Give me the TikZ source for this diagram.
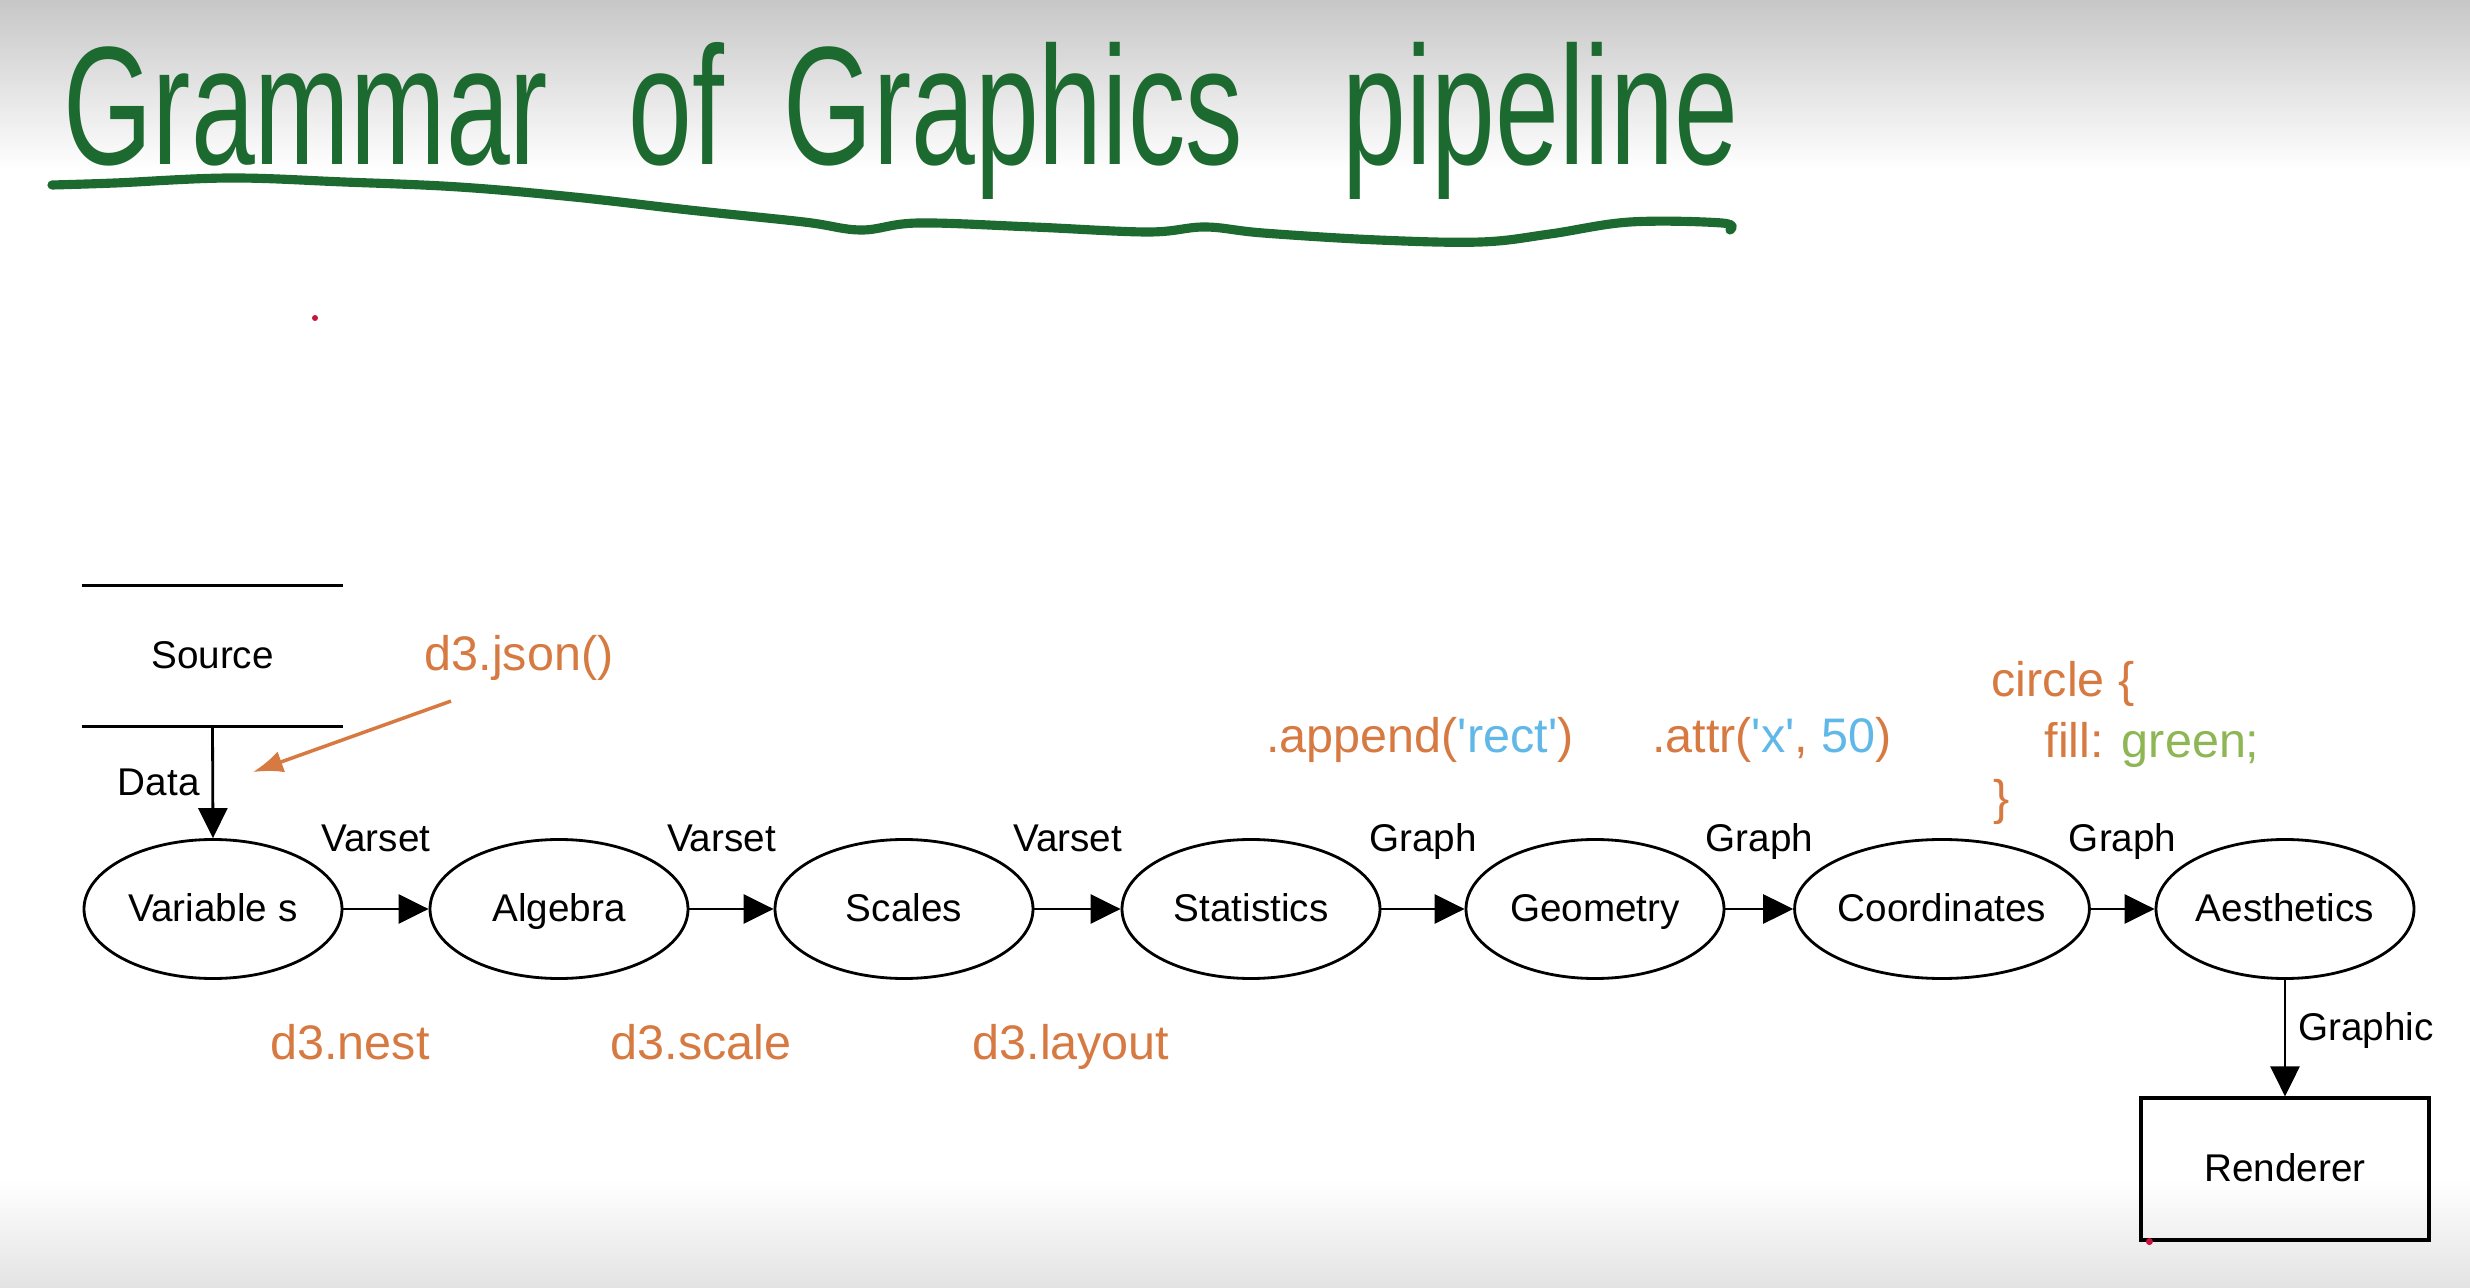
\documentclass[tikz,border=0pt]{standalone}
\usepackage{fontspec}
\setmainfont{Liberation Sans}
\usetikzlibrary{calc, arrows.meta, shapes.geometric}

\definecolor{pengreen}{RGB}{28,106,48}
\definecolor{codeorange}{RGB}{214,122,66}
\definecolor{codeblue}{RGB}{96,184,232}
\definecolor{codegreen}{RGB}{142,182,84}
\definecolor{inkred}{RGB}{200,20,60}
\newcommand{\squote}{\textquotesingle}

\begin{document}
\begin{tikzpicture}[
  font=\fontsize{11}{13}\selectfont,
  stage/.style={draw, ellipse, line width=0.8pt, minimum width=2.58cm, minimum height=1.39cm, inner sep=0pt,
    text height=0.72em, text depth=0pt},
  flow/.style={-{Triangle[length=3mm, width=2.9mm]}, line width=0.8pt},
  tag/.style={text height=0.72em, text depth=0pt},
  code/.style={text=codeorange, font=\fontsize{13.8}{16.6}\selectfont, text height=0.72em, text depth=0pt}
]
  \useasboundingbox (0,0) rectangle (24.7,-12.88);
  \fill[white] (0,0) rectangle (24.7,-12.88);
  \shade[top color=black!22, bottom color=white] (0,0) rectangle (24.7,-1.7);
  \shade[top color=white, bottom color=black!11] (0,-11.8) rectangle (24.7,-12.88);

  % pen title and its wavy underline
  \node[anchor=base west, text=pengreen, inner sep=0pt, font=\fontsize{48}{50}\selectfont] (title) at (0.63,-1.65)
    {\scalebox{0.68}[1]{Grammar\hspace{1.18cm}of\hspace{0.88cm}Graphics\hspace{1.47cm}pipeline}};
  \draw[pengreen, line width=2.6pt, line cap=round, line join=round] plot[smooth, tension=0.6] coordinates {
    (0.52,-1.85) (1.15,-1.83) (2.30,-1.78) (3.44,-1.82) (4.59,-1.87) (5.74,-1.97) (6.89,-2.10)
    (8.04,-2.22) (8.61,-2.30) (9.18,-2.23) (10.33,-2.27) (11.48,-2.32) (12.05,-2.27) (12.63,-2.33)
    (13.78,-2.40) (14.81,-2.42) (15.50,-2.34) (16.30,-2.22) (17.22,-2.23) (17.30,-2.30)};
  \fill[inkred] (3.15,-3.18) circle (0.03);

  % data store
  \node[tag, minimum width=2.59cm, minimum height=1.4cm] (src) at (2.125,-6.56) {Source};
  \draw[line width=0.9pt] (src.north west) -- (src.north east);
  \draw[line width=0.9pt] (src.south west) -- (src.south east);

  % pipeline stages
  \node[stage] (var) at (2.13,-9.09) {Variable s};
  \node[stage] (alg) at (5.59,-9.09) {Algebra};
  \node[stage] (scl) at (9.04,-9.09) {Scales};
  \node[stage] (sta) at (12.51,-9.09) {Statistics};
  \node[stage] (geo) at (15.95,-9.09) {Geometry};
  \node[stage] (crd) at (19.42,-9.09) {Coordinates};
  \node[stage] (aes) at (22.85,-9.09) {Aesthetics};
  \node[tag, draw, line width=0.9pt, minimum width=2.88cm, minimum height=1.42cm] (rnd) at (22.85,-11.69) {Renderer};
  \fill[inkred] (rnd.south west) ++(0.1,0) circle (0.035);

  \draw[flow] (src.south) -- node[tag, left] {Data} (var.north);
  \draw[flow] (var) -- node[tag, midway, yshift=7mm, xshift=-1mm] {Varset} (alg);
  \draw[flow] (alg) -- node[tag, midway, yshift=7mm, xshift=-1mm] {Varset} (scl);
  \draw[flow] (scl) -- node[tag, midway, yshift=7mm, xshift=-1mm] {Varset} (sta);
  \draw[flow] (sta) -- node[tag, midway, yshift=7mm] {Graph} (geo);
  \draw[flow] (geo) -- node[tag, midway, yshift=7mm] {Graph} (crd);
  \draw[flow] (crd) -- node[tag, midway, yshift=7mm] {Graph} (aes);
  \draw[flow] (aes.south) -- node[tag, right, yshift=1mm] {Graphic} (rnd.north);

  % d3 calls
  \node[code] (json) at (5.19,-6.58) {d3.json()};
  \coordinate (jsontip) at (2.53,-7.72);
  \draw[codeorange, line width=1pt, -{Latex[length=3mm, width=2.2mm]}] ($(json.south)+(-0.68,-0.18)$) -- (jsontip);
  \node[code] (nest) at (3.50,-10.47) {d3.nest};
  \node[code] (scale) at (7.01,-10.47) {d3.scale};
  \node[code] (layout) at (10.71,-10.47) {d3.layout};
  \node[code] (append) at (14.20,-7.40) {.append(\textcolor{codeblue}{\squote rect\squote})};
  \node[code] (attr) at (17.72,-7.40) {.attr(\textcolor{codeblue}{\squote x\squote}, \textcolor{codeblue}{50})};
  \node[code, anchor=base west, inner sep=0pt] (css1) at (19.91,-6.97) {circle \{};
  \node[code, anchor=base west, inner sep=0pt] (css2) at (20.44,-7.57) {fill: \textcolor{codegreen}{green;}};
  \node[code, anchor=base west, inner sep=0pt] (css3) at (19.93,-8.15) {\}};
\end{tikzpicture}
\end{document}
